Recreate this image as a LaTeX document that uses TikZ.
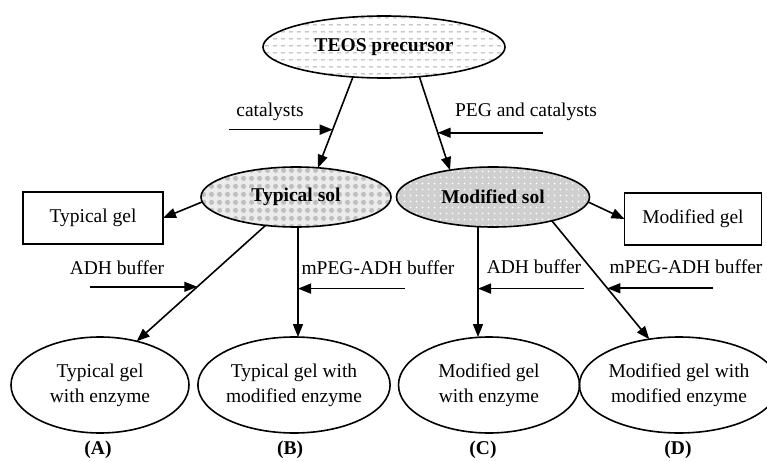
\documentclass[tikz,border=0pt]{standalone}
\usepackage{fontspec}
\setmainfont{Liberation Serif}
\usepackage{tikz}
\usetikzlibrary{shapes,arrows.meta,patterns}

% fill patterns of the three top ellipses
\pgfdeclarepatternformonly{dashrows}{\pgfqpoint{0pt}{0pt}}{\pgfqpoint{8pt}{7pt}}{\pgfqpoint{8pt}{7pt}}{%
  \pgfsetlinewidth{0.9pt}%
  \pgfpathmoveto{\pgfqpoint{1pt}{3.5pt}}\pgfpathlineto{\pgfqpoint{5.5pt}{3.5pt}}%
  \pgfusepath{stroke}}
\pgfdeclarepatternformonly{beads}{\pgfqpoint{0pt}{0pt}}{\pgfqpoint{8pt}{8pt}}{\pgfqpoint{8pt}{8pt}}{%
  \pgfpathcircle{\pgfqpoint{4pt}{4pt}}{2.8pt}\pgfusepath{fill}}
\pgfdeclarepatternformonly{sparkle}{\pgfqpoint{0pt}{0pt}}{\pgfqpoint{6pt}{6pt}}{\pgfqpoint{6pt}{6pt}}{%
  \pgfpathcircle{\pgfqpoint{3pt}{3pt}}{1.1pt}\pgfusepath{fill}}

\begin{document}
\begin{tikzpicture}[x=1pt,y=-1pt,
    every node/.style={font=\fontsize{19.5}{25}\selectfont, inner sep=0pt, outer sep=0pt},
    conn/.style={line width=1.6pt, -{Triangle[length=13pt,width=10pt]}},
    solnode/.style={ellipse, draw, line width=1.6pt, minimum height=60pt,
        font=\fontsize{19.5}{23}\selectfont\bfseries},
    gelbox/.style={rectangle, draw, line width=1.6pt, minimum height=52pt},
    product/.style={ellipse, draw, line width=1.6pt, minimum height=96pt, align=center},
    tag/.style={font=\fontsize{19.5}{23}\selectfont\bfseries}]
    \useasboundingbox (0,0) rectangle (767,462);

    % Precursor and sols
    \node[solnode, minimum width=242pt, minimum height=62pt,
        pattern=dashrows, pattern color=gray!65] (teos) at (384,47) {TEOS precursor};
    \node[solnode, minimum width=190pt, preaction={fill=gray!15},
        pattern=beads, pattern color=gray!50] (tsol) at (296,197) {Typical sol};
    \node[solnode, minimum width=193pt, preaction={fill=gray!38},
        pattern=sparkle, pattern color=white] (msol) at (493,197) {Modified sol};

    % Gels without enzyme
    \node[gelbox, minimum width=140pt] (tgel) at (93,218) {Typical gel};
    \node[gelbox, minimum width=137pt] (mgel) at (693,219) {Modified gel};

    % Gels with enzyme
    \node[product, minimum width=178pt] (gela) at (100,385) {Typical gel\\with enzyme};
    \node[product, minimum width=181pt] (gelb) at (294,385) {Typical gel with\\modified enzyme};
    \node[product, minimum width=181pt] (gelc) at (489,385) {Modified gel\\with enzyme};
    \node[product, minimum width=174pt] (geld) at (679,385) {Modified gel with\\modified enzyme};

    \node[tag] (taga) at (98,450) {(A)};
    \node[tag] (tagb) at (290,450) {(B)};
    \node[tag] (tagc) at (483,450) {(C)};
    \node[tag] (tagd) at (678,450) {(D)};

    % Precursor to sols
    \draw[conn] (teos.224) -- coordinate[pos=0.58] (catin) (tsol.53);
    \draw[conn] (teos.320) -- coordinate[pos=0.6] (pegin) (msol.148);
    \coordinate (catfrom) at (229,130);
    \coordinate (pegfrom) at (543,130);
    \draw[conn] (catin -| catfrom) -- (catin);
    \draw[conn] (pegin -| pegfrom) -- (pegin);
    \node (cat) at (270,112) {catalysts};
    \node (peg) at (526,112) {PEG and catalysts};

    % Sols to gels
    \draw[conn] (tsol.183) -- (tgel.east);
    \draw[conn] (msol.357) -- (mgel.west);

    % Sols to gels with enzyme
    \draw[conn] (tsol.223) -- coordinate[pos=0.53] (adha) (gela.50);
    \draw[conn] ([xshift=2pt]tsol.south) -- coordinate[pos=0.56] (adhb) ([xshift=4pt]gelb.north);
    \draw[conn] ([xshift=-15pt]msol.south) -- coordinate[pos=0.56] (adhc) ([xshift=-11pt]gelc.north);
    \draw[conn] (msol.338) -- coordinate[pos=0.57] (adhd) (geld.123);

    % Buffers
    \coordinate (bufa) at (90,288);
    \coordinate (bufb) at (405,288);
    \coordinate (bufc) at (584,288);
    \coordinate (bufd) at (713,288);
    \draw[conn] (adha -| bufa) -- (adha);
    \draw[conn] (adhb -| bufb) -- (adhb);
    \draw[conn] (adhc -| bufc) -- (adhc);
    \draw[conn] (adhd -| bufd) -- (adhd);
    \node (txta) at (117,268) {ADH buffer};
    \node (txtb) at (378,268) {mPEG-ADH buffer};
    \node (txtc) at (534,267) {ADH buffer};
    \node (txtd) at (686,267) {mPEG-ADH buffer};
\end{tikzpicture}
\end{document}
